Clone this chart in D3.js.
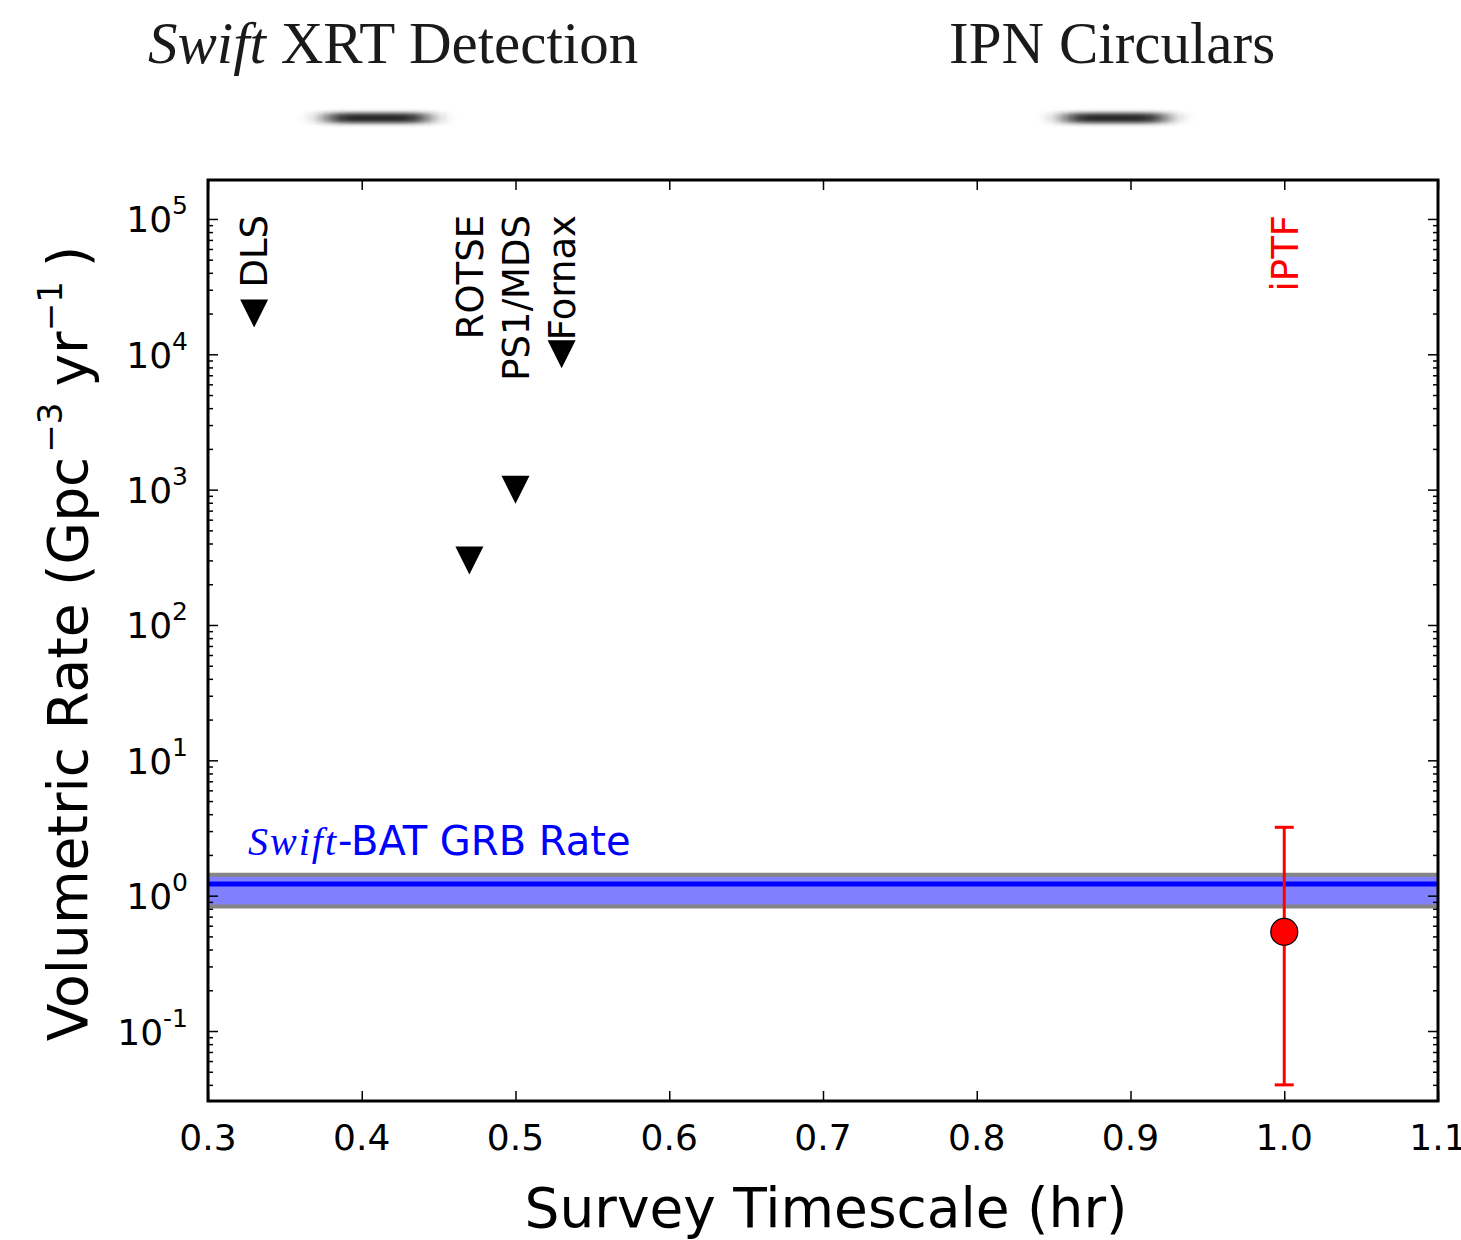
<!DOCTYPE html>
<html>
<head>
<meta charset="utf-8">
<script src="https://cdn.jsdelivr.net/npm/d3@7"></script>
<style>
  body { margin: 0; background: #fff; }
  svg { display: block; }
</style>
</head>
<body>
<svg id="chart" width="1461" height="1240"></svg>
<script>
// Survey upper limits: rate in Gpc^-3 yr^-1 against survey timescale in hours
const surveys = ["DLS", "ROTSE", "PS1/MDS", "Fornax"];
const surveyHours = [0.33, 0.47, 0.50, 0.53];
const surveyLimits = [2.0e4, 300, 1.0e3, 1.0e4];

// iPTF rate with its error range
const iptfName = "iPTF";
const iptfHours = 1.0;
const iptfRate = 0.54;
const iptfLow = 0.040;
const iptfHigh = 3.2;

// Swift-BAT GRB rate and its band
const batRate = 1.22;
const batLow = 0.83;
const batHigh = 1.43;

// Timescale markers drawn above the axes
const timescaleLabels = ["Swift XRT Detection", "IPN Circulars"];
const timescaleHours = [0.41, 0.89];

// Axis ticks
const xTicks = [0.3, 0.4, 0.5, 0.6, 0.7, 0.8, 0.9, 1.0, 1.1];
const xTickLabels = ["0.3", "0.4", "0.5", "0.6", "0.7", "0.8", "0.9", "1.0", "1.1"];
const yTickExponents = [-1, 0, 1, 2, 3, 4, 5];
const yTickExponentLabels = ["-1", "0", "1", "2", "3", "4", "5"];

const L = 208, R = 1438, T = 180, B = 1101;
const sans = "'DejaVu Sans', 'Bitstream Vera Sans', sans-serif";
const serif = "'Liberation Serif', 'Times New Roman', serif";

const svg = d3.select("#chart");
const x = d3.scaleLinear().domain([0.3, 1.1]).range([L, R]);
const y = d3.scaleLog().domain([0.0304, 1.94e5]).range([B, T]);

const defs = svg.append("defs");
defs.append("clipPath").attr("id", "plot-clip")
  .append("rect").attr("x", L).attr("y", T).attr("width", R - L).attr("height", B - T);
defs.append("filter").attr("id", "soft")
  .attr("x", "-60%").attr("y", "-300%").attr("width", "220%").attr("height", "700%")
  .append("feGaussianBlur").attr("stdDeviation", "13 2");

// ---- timescale markers above the plot ----
const labelNudge = [16, -3];
timescaleLabels.forEach((lab, i) => {
  const cx = x(timescaleHours[i]);
  const t = svg.append("text")
    .attr("x", cx + labelNudge[i]).attr("y", 63)
    .attr("text-anchor", "middle")
    .attr("font-family", serif).attr("font-size", 59)
    .attr("fill", "#1a1a1a");
  if (lab.startsWith("Swift ")) {
    t.append("tspan").attr("font-style", "italic").text("Swift");
    t.append("tspan").text(lab.slice(5));
  } else {
    t.text(lab);
  }
  svg.append("rect")
    .attr("x", cx - 50).attr("y", 113).attr("width", 100).attr("height", 10)
    .attr("fill", "#262626").attr("filter", "url(#soft)");
});

// ---- plot contents ----
const plot = svg.append("g").attr("clip-path", "url(#plot-clip)");

// Swift-BAT band
plot.append("rect")
  .attr("x", x(0.3)).attr("width", x(1.1) - x(0.3))
  .attr("y", y(batHigh)).attr("height", y(batLow) - y(batHigh))
  .attr("fill", "#8080ff");
[batHigh, batLow].forEach(v => {
  plot.append("line")
    .attr("x1", x(0.3)).attr("x2", x(1.1))
    .attr("y1", y(v)).attr("y2", y(v))
    .attr("stroke", "#858585").attr("stroke-width", 4);
});
plot.append("line")
  .attr("x1", x(0.3)).attr("x2", x(1.1))
  .attr("y1", y(batRate)).attr("y2", y(batRate))
  .attr("stroke", "#0000ff").attr("stroke-width", 5);

// Swift-BAT label
const batLabel = plot.append("text")
  .attr("x", x(0.326)).attr("y", y(2.0))
  .attr("fill", "#0000ff").attr("font-family", sans).attr("font-size", 40);
batLabel.append("tspan").attr("font-family", serif).attr("font-style", "italic")
  .attr("font-size", 40).attr("letter-spacing", 2).text("Swift");
batLabel.append("tspan").text("-BAT GRB Rate");

// Upper-limit triangles
const tri = "M-14,-14L14,-14L0,14Z";
surveys.forEach((name, i) => {
  plot.append("path")
    .attr("d", tri)
    .attr("transform", `translate(${x(surveyHours[i])},${y(surveyLimits[i])})`)
    .attr("fill", "#000");
  plot.append("text")
    .attr("transform", `translate(${x(surveyHours[i])},${y(1.07e5)}) rotate(-90)`)
    .attr("text-anchor", "end").attr("dy", "0.36em")
    .attr("font-family", sans).attr("font-size", 37)
    .attr("fill", "#000").text(name);
});

// iPTF point with error bar
const ix = x(iptfHours);
plot.append("line")
  .attr("x1", ix).attr("x2", ix).attr("y1", y(iptfHigh)).attr("y2", y(iptfLow))
  .attr("stroke", "#ff0000").attr("stroke-width", 3);
[iptfHigh, iptfLow].forEach(v => {
  plot.append("line")
    .attr("x1", ix - 9.5).attr("x2", ix + 9.5).attr("y1", y(v)).attr("y2", y(v))
    .attr("stroke", "#ff0000").attr("stroke-width", 3);
});
plot.append("circle")
  .attr("cx", ix).attr("cy", y(iptfRate)).attr("r", 13.5)
  .attr("fill", "#ff0000").attr("stroke", "#000").attr("stroke-width", 1.2);
plot.append("text")
  .attr("transform", `translate(${ix},${y(1.07e5)}) rotate(-90)`)
  .attr("text-anchor", "end").attr("dy", "0.36em")
  .attr("font-family", sans).attr("font-size", 37)
  .attr("fill", "#ff0000").text(iptfName);

// ---- ticks ----
const majorY = yTickExponents.map(e => Math.pow(10, e));
const minorY = [];
for (let e = -2; e <= 5; e++) {
  for (let k = 2; k <= 9; k++) {
    const v = k * Math.pow(10, e);
    if (v > y.domain()[0] && v < y.domain()[1]) minorY.push(v);
  }
}
function styleAxis(g) {
  g.select(".domain").remove();
  g.selectAll(".tick line").attr("stroke", "#000").attr("stroke-width", 1.5);
  g.selectAll(".tick text").remove();
}
svg.append("g").attr("transform", `translate(${L},0)`)
  .call(d3.axisLeft(y).tickValues(majorY).tickSize(-10).tickFormat(() => "")).call(styleAxis);
svg.append("g").attr("transform", `translate(${L},0)`)
  .call(d3.axisLeft(y).tickValues(minorY).tickSize(-5).tickFormat(() => "")).call(styleAxis);
svg.append("g").attr("transform", `translate(${R},0)`)
  .call(d3.axisRight(y).tickValues(majorY).tickSize(-10).tickFormat(() => "")).call(styleAxis);
svg.append("g").attr("transform", `translate(${R},0)`)
  .call(d3.axisRight(y).tickValues(minorY).tickSize(-5).tickFormat(() => "")).call(styleAxis);
svg.append("g").attr("transform", `translate(0,${B})`)
  .call(d3.axisBottom(x).tickValues(xTicks).tickSize(-10).tickFormat(() => "")).call(styleAxis);
svg.append("g").attr("transform", `translate(0,${T})`)
  .call(d3.axisTop(x).tickValues(xTicks).tickSize(-10).tickFormat(() => "")).call(styleAxis);

// Frame
svg.append("rect")
  .attr("x", L).attr("y", T).attr("width", R - L).attr("height", B - T)
  .attr("fill", "none").attr("stroke", "#000").attr("stroke-width", 3);

// X tick labels
xTicks.forEach((v, i) => {
  svg.append("text")
    .attr("x", x(v)).attr("y", 1150)
    .attr("text-anchor", "middle")
    .attr("font-family", sans).attr("font-size", 36).attr("fill", "#000")
    .text(xTickLabels[i]);
});

// Y tick labels as powers of ten
majorY.forEach((v, i) => {
  const t = svg.append("text")
    .attr("x", 188).attr("y", y(v) + 13.5)
    .attr("text-anchor", "end")
    .attr("font-family", sans).attr("font-size", 36).attr("fill", "#000");
  t.append("tspan").text("10");
  t.append("tspan").attr("font-size", 25).attr("dy", -18).text(yTickExponentLabels[i]);
});

// Axis titles
svg.append("text")
  .attr("x", (L + R) / 2 + 3).attr("y", 1227)
  .attr("text-anchor", "middle")
  .attr("font-family", sans).attr("font-size", 55).attr("fill", "#000")
  .text("Survey Timescale (hr)");

const yTitle = svg.append("text")
  .attr("transform", `translate(87,${(T + B) / 2 + 3}) rotate(-90)`)
  .attr("text-anchor", "middle")
  .attr("font-family", sans).attr("font-size", 55).attr("fill", "#000");
yTitle.append("tspan").text("Volumetric Rate (Gpc");
yTitle.append("tspan").attr("font-size", 34).attr("dy", -25).attr("dx", 4).text("\u22123");
yTitle.append("tspan").attr("dy", 25).attr("dx", 16).text("yr");
yTitle.append("tspan").attr("font-size", 34).attr("dy", -25).text("\u22121");
yTitle.append("tspan").attr("dy", 25).attr("dx", 14).text(")");
</script>
</body>
</html>
